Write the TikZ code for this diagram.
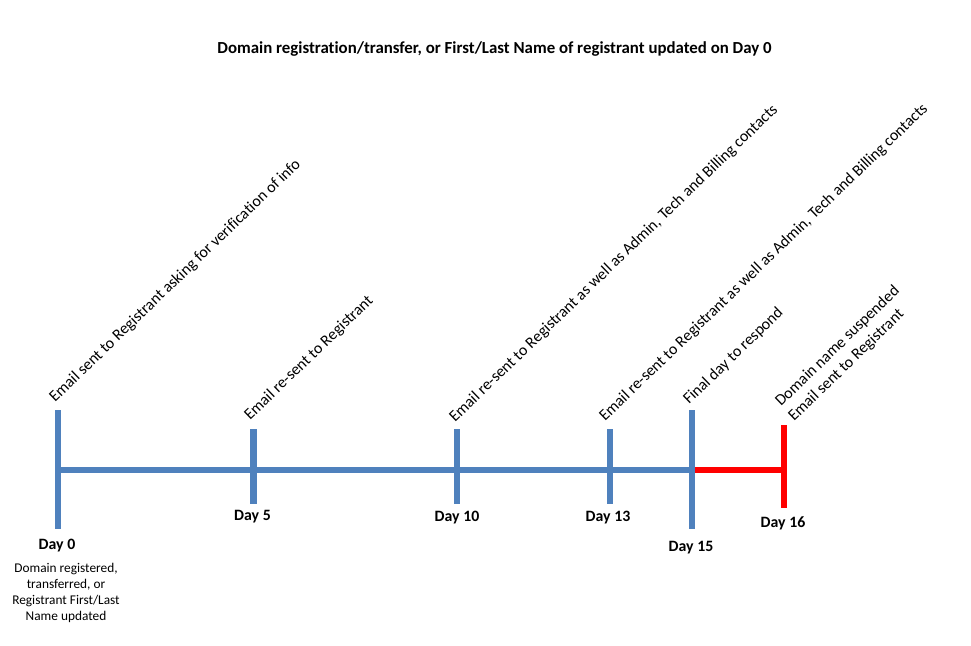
\documentclass[tikz,border=0pt]{standalone}
\usepackage{fontspec}
\setmainfont{Carlito}[Ligatures=NoCommon]
\definecolor{tlblue}{HTML}{4F81BD}
\definecolor{tlred}{HTML}{FF0000}
\begin{document}
\begin{tikzpicture}[x=1pt,y=-1pt,
  bluebar/.style={line width=6.5pt, draw=tlblue},
  redbar/.style={line width=6.5pt, draw=tlred},
  daylab/.style={font=\fontsize{15.8}{18}\selectfont\bfseries, anchor=base, inner sep=0pt},
  evlab/.style={font=\fontsize{16}{18}\selectfont, rotate=44, anchor=base west, inner sep=0pt},
  titlelab/.style={font=\fontsize{16.85}{19}\selectfont\bfseries, anchor=base, inner sep=0pt},
  desclab/.style={font=\fontsize{13.33}{16}\selectfont, align=center, anchor=north, inner sep=0pt},
]
\useasboundingbox[fill=white] (0,0) rectangle (971,645);

% tick end points
\coordinate (t0) at (58,410);   \coordinate (a0) at (58,470);   \coordinate (b0) at (58,529);
\coordinate (t5) at (253.5,429); \coordinate (a5) at (253.5,470); \coordinate (b5) at (253.5,504);
\coordinate (t10) at (457,429); \coordinate (a10) at (457,470); \coordinate (b10) at (457,504);
\coordinate (t13) at (610,429); \coordinate (a13) at (610,470); \coordinate (b13) at (610,504);
\coordinate (t15) at (692,410); \coordinate (a15) at (692,470); \coordinate (b15) at (692,529);
\coordinate (t16) at (784,425); \coordinate (a16) at (784,470); \coordinate (b16) at (784,508);

% axis
\draw[bluebar] (a0) -- (a15);
\draw[redbar] (a15) -- (a16);
% ticks
\draw[bluebar] (t0) -- (b0);
\draw[bluebar] (t5) -- (b5);
\draw[bluebar] (t10) -- (b10);
\draw[bluebar] (t13) -- (b13);
\draw[bluebar] (t15) -- (b15);
\draw[redbar] (t16) -- (b16);

% title
\node[titlelab] (title) at (494.5,53) {Domain registration/transfer, or First/Last Name of registrant updated on Day 0};

% day labels
\node[daylab] (d0) at (57,549) {Day 0};
\node[daylab] (d5) at (252.5,520) {Day 5};
\node[daylab] (d10) at (457,521) {Day 10};
\node[daylab] (d13) at (608,521) {Day 13};
\node[daylab] (d15) at (691,551) {Day 15};
\node[daylab] (d16) at (783,527) {Day 16};

% description
\node[desclab] (desc) at (66,563) {Domain registered,\\ transferred, or\\ Registrant First/Last\\ Name updated};

% event labels
\node[evlab] (e0) at (55,403) {Email sent to Registrant asking for verification of info};
\node[evlab] (e5) at (250,421) {Email re-sent to Registrant};
\node[evlab] (e10) at (455,423) {Email re-sent to Registrant as well as Admin, Tech and Billing contacts};
\node[evlab] (e13) at (605,422) {Email re-sent to Registrant as well as Admin, Tech and Billing contacts};
\node[evlab] (e15) at (689,405) {Final day to respond};
\node[evlab] (e16a) at (781,407) {Domain name suspended};
\node[evlab] (e16b) at (794,422) {Email sent to Registrant};
\end{tikzpicture}
\end{document}
